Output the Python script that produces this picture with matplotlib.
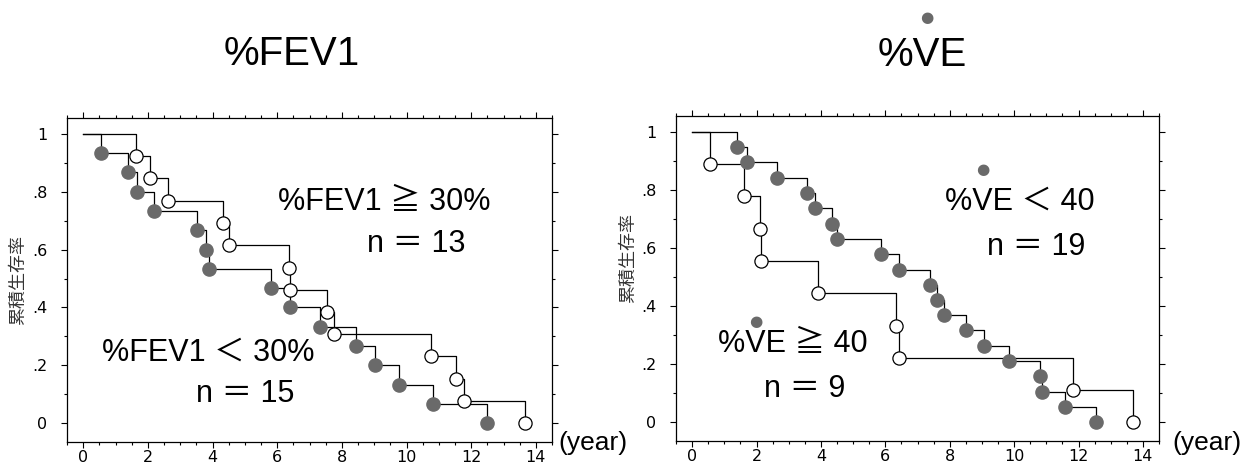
import numpy as np
import matplotlib
matplotlib.use("Agg")
import matplotlib.pyplot as plt
from matplotlib.ticker import MultipleLocator

plt.rcParams['font.family'] = ['Liberation Sans', 'Noto Sans CJK JP', 'DejaVu Sans']

# --- data ---
# %FEV1 panel
fev_low_t = [0.55, 1.38, 1.68, 2.18, 3.52, 3.81, 3.90, 5.81, 6.39, 7.34, 8.45, 9.04, 9.78, 10.83, 12.50]
fev_low_s = [0.933, 0.867, 0.800, 0.733, 0.667, 0.600, 0.533, 0.467, 0.400, 0.333, 0.267, 0.200, 0.133, 0.067, 0.0]
fev_high_t = [1.64, 2.07, 2.61, 4.34, 4.50, 6.36, 6.41, 7.54, 7.75, 10.76, 11.52, 11.78, 13.66]
fev_high_s = [0.923, 0.846, 0.769, 0.692, 0.615, 0.538, 0.462, 0.385, 0.308, 0.231, 0.154, 0.077, 0.0]

# %VE panel
ve_low_t = [1.38, 1.69, 2.64, 3.56, 3.82, 4.34, 4.49, 5.86, 6.44, 7.38, 7.61, 7.82, 8.51, 9.08,
            9.84, 10.81, 10.86, 11.58, 12.54]
ve_low_s = [0.947, 0.895, 0.842, 0.789, 0.737, 0.684, 0.632, 0.579, 0.526, 0.474, 0.421, 0.368,
            0.316, 0.263, 0.211, 0.158, 0.105, 0.053, 0.0]
ve_high_t = [0.55, 1.61, 2.10, 2.15, 3.92, 6.34, 6.41, 11.82, 13.70]
ve_high_s = [0.889, 0.778, 0.667, 0.556, 0.444, 0.333, 0.222, 0.111, 0.0]

xticks = [0, 2, 4, 6, 8, 10, 12, 14]
yticks = [0, 0.2, 0.4, 0.6, 0.8, 1.0]
ytick_labels = ['0', '.2', '.4', '.6', '.8', '1']

W, H = 1260, 472
fig = plt.figure(figsize=(W / 100, H / 100), dpi=100)
renderer = fig.canvas.get_renderer()

DOT = '#6a6a6a'


def px(x, y):
    return x / W, 1 - y / H


def text_w(s, fs):
    t = fig.text(0, 0, s, fontsize=fs)
    w = t.get_window_extent(renderer).width
    t.remove()
    return w


def km(ax, t, s, filled):
    x = [0] + list(t)
    y = [1] + list(s)
    ax.plot(x, y, drawstyle='steps-post', color='black', lw=0.9, zorder=2)
    if filled:
        ax.plot(t, s, 'o', ms=9.5, mfc=DOT, mec=DOT, zorder=3)
    else:
        ax.plot(t, s, 'o', ms=9.5, mfc='white', mec='black', mew=0.9, zorder=3)


def style(ax):
    ax.set_xlim(-0.5, 14.5)
    ax.set_ylim(-0.065, 1.055)
    ax.set_xticks(xticks)
    ax.set_xticklabels([str(v) for v in xticks])
    ax.set_yticks(yticks)
    ax.set_yticklabels(ytick_labels)
    ax.xaxis.set_minor_locator(MultipleLocator(0.5))
    ax.yaxis.set_minor_locator(MultipleLocator(0.1))
    ax.tick_params(which='both', direction='out', top=True, right=True, width=0.8)
    ax.tick_params(which='major', length=4)
    ax.tick_params(which='minor', length=2)
    ax.tick_params(axis='x', pad=2)
    ax.tick_params(axis='y', pad=10)
    for lab in ax.get_xticklabels() + ax.get_yticklabels():
        lab.set_family(['Liberation Sans Narrow', 'DejaVu Sans'])
        lab.set_fontsize(11.5)
    for sp in ax.spines.values():
        sp.set_linewidth(0.9)


def vdot_label(x, y, s, fs, dot_y, dot_fs):
    # label with a dot over the V (V-dot), centred at x
    fig.text(*px(x, y), s, ha='center', va='baseline', fontsize=fs)
    left = x - text_w(s, fs) / 2
    vx = left + (text_w('%V', fs) + text_w('%', fs)) / 2
    fig.text(*px(vx, dot_y), '●', ha='center', va='center', fontsize=dot_fs,
             color=DOT, family='DejaVu Sans')


ax1 = fig.add_axes([67 / W, 1 - 442 / H, (552 - 67) / W, (442 - 118) / H])
ax2 = fig.add_axes([676 / W, 1 - 441 / H, (1159 - 676) / W, (441 - 116) / H])

km(ax1, fev_high_t, fev_high_s, False)
km(ax1, fev_low_t, fev_low_s, True)
km(ax2, ve_high_t, ve_high_s, False)
km(ax2, ve_low_t, ve_low_s, True)
style(ax1)
style(ax2)

# y labels
fig.text(*px(18, 280), '累積生存率', rotation=90, ha='center', va='center',
         fontsize=13, color='#333333', family='Noto Sans CJK JP')
fig.text(*px(628, 258), '累積生存率', rotation=90, ha='center', va='center',
         fontsize=13, color='#333333', family='Noto Sans CJK JP')

# (year)
fig.text(*px(558, 443), '(year)', ha='left', va='center', fontsize=19)
fig.text(*px(1172, 443), '(year)', ha='left', va='center', fontsize=19)

# titles
fig.text(*px(292, 65), '%FEV1', ha='center', va='baseline', fontsize=29)
vdot_label(922, 66, '%VE', 29, 18, 11)

# group labels
big = 22
fig.text(*px(384, 210), '%FEV1 ≧ 30%', ha='center', va='baseline', fontsize=big)
fig.text(*px(416, 252), 'n ＝ 13', ha='center', va='baseline', fontsize=big)
fig.text(*px(208, 361), '%FEV1 ＜ 30%', ha='center', va='baseline', fontsize=big)
fig.text(*px(245, 402), 'n ＝ 15', ha='center', va='baseline', fontsize=big)

vdot_label(1020, 210, '%VE ＜ 40', big, 169, 11)
fig.text(*px(1036, 255), 'n ＝ 19', ha='center', va='baseline', fontsize=big)
vdot_label(793, 352, '%VE ≧ 40', big, 321, 11)
fig.text(*px(805, 397), 'n ＝ 9', ha='center', va='baseline', fontsize=big)

fig.savefig('out.png', dpi=100)
